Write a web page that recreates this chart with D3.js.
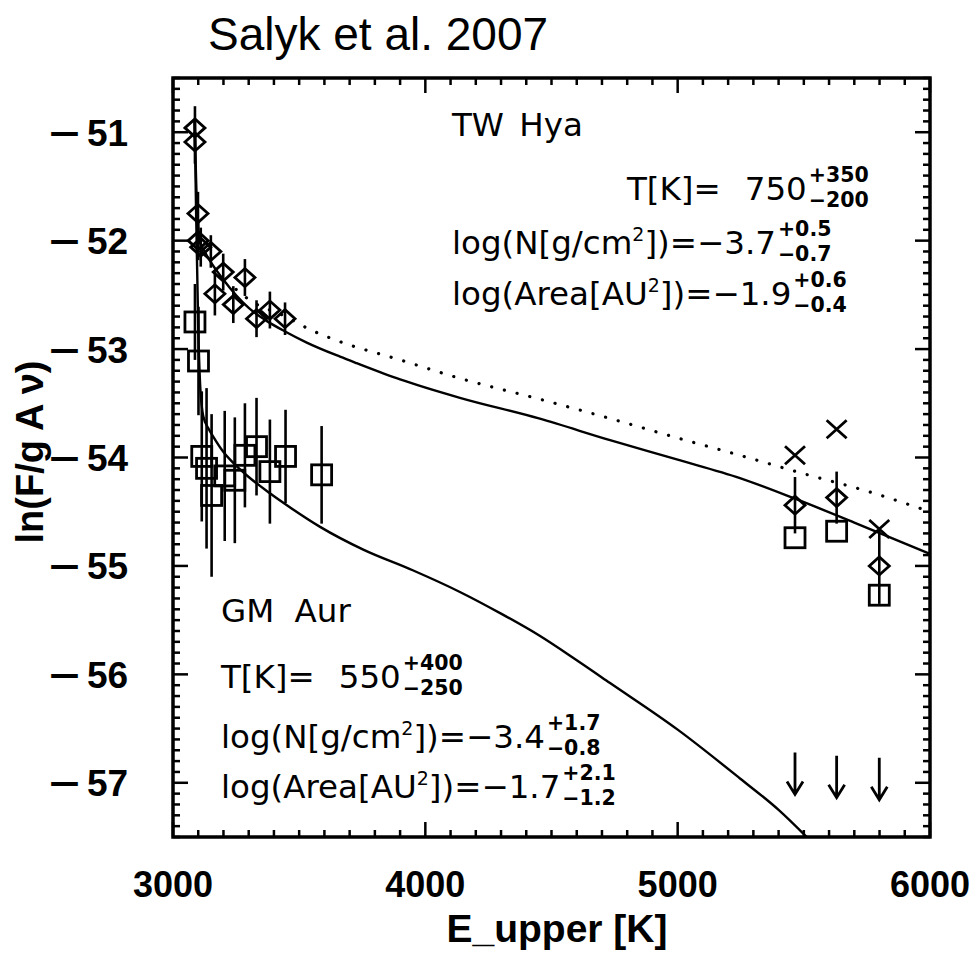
<!DOCTYPE html>
<html><head><meta charset="utf-8">
<script src="https://cdn.jsdelivr.net/npm/d3@7"></script>
<style>html,body{margin:0;padding:0;background:#fff;} svg{display:block;}</style>
</head><body>
<script>
// ---- data ----
const xTicks = [3000, 4000, 5000, 6000];
const yTicks = [-57, -56, -55, -54, -53, -52, -51];

// TW Hya (diamonds)
const twX   = [3087, 3087, 3099, 3100, 3110, 3150, 3199, 3166, 3285, 3239, 3331, 3384, 3444, 5465, 5630, 5799];
const twY   = [-50.96, -51.09, -51.75, -52.00, -52.06, -52.10, -52.29, -52.49, -52.34, -52.59, -52.72, -52.64, -52.72, -54.44, -54.37, -55.00];
const twErr = [0.2, 0.2, 0.2, 0.18, 0.18, 0.15, 0.17, 0.2, 0.17, 0.17, 0.17, 0.17, 0.15, 0.26, 0.24, 0.35];

// GM Aur (squares)
const gmX   = [3087, 3101, 3114, 3133, 3153, 3205, 3245, 3285, 3331, 3384, 3446, 3589, 5465, 5630, 5799];
const gmY   = [-52.75, -53.11, -53.99, -54.10, -54.35, -54.17, -54.21, -53.98, -53.90, -54.13, -53.99, -54.16, -54.74, -54.68, -55.27];
const gmErr = [0.35, 0.5, 0.6, 0.74, 0.75, 0.6, 0.58, 0.48, 0.45, 0.48, 0.43, 0.45, 0, 0, 0];

// crosses
const crossX = [5465, 5630, 5799];
const crossY = [-53.98, -53.74, -54.66];

// upper limits (arrows)
const limX = [5465, 5630, 5799];
const limY = [-56.72, -56.75, -56.77];

// TW Hya model (solid)
const twModelX = [3086, 3090, 3097, 3105, 3130, 3200, 3300, 3371, 3446, 3530, 3662, 3728, 3900, 4137, 4450, 4732, 5000, 5247, 5465, 5700, 6000];
const twModelY = [-50.9, -51.3, -51.8, -52.0, -52.12, -52.36, -52.62, -52.74, -52.84, -52.94, -53.07, -53.13, -53.28, -53.45, -53.64, -53.84, -54.02, -54.19, -54.38, -54.60, -54.89];
// TW Hya model (dotted)
const dotModelX = [3250, 3305, 3446, 3543, 3648, 3900, 4137, 4450, 4732, 5000, 5247, 5500, 5750, 6000];
const dotModelY = [-52.45, -52.55, -52.70, -52.82, -52.92, -53.10, -53.27, -53.46, -53.64, -53.82, -53.98, -54.15, -54.31, -54.50];
// GM Aur model (solid)
const gmModelX = [3086, 3092, 3100, 3108, 3120, 3140, 3160, 3200, 3252, 3300, 3384, 3470, 3583, 3754, 3950, 4137, 4300, 4450, 4600, 4732, 5000, 5247, 5400, 5520];
const gmModelY = [-50.9, -51.8, -52.8, -53.35, -53.62, -53.73, -53.81, -53.95, -54.08, -54.18, -54.33, -54.47, -54.64, -54.85, -55.04, -55.24, -55.44, -55.64, -55.87, -56.08, -56.51, -56.96, -57.25, -57.52];

// ---- drawing ----
const W = 978, H = 953;
const L = 173, R = 930, T = 78, B = 837;
const svg = d3.select("body").append("svg").attr("width", W).attr("height", H);
const x = d3.scaleLinear().domain([3000, 6000]).range([L, R]);
const y = d3.scaleLinear().domain([-57.5, -50.5]).range([B, T]);

svg.append("defs").append("clipPath").attr("id", "clip")
  .append("rect").attr("x", L).attr("y", T).attr("width", R - L).attr("height", B - T);

// title
svg.append("text").attr("x", 208).attr("y", 50)
  .attr("font-family", "Liberation Sans, Arial, sans-serif").attr("font-size", 46)
  .text("Salyk et al. 2007");

const g = svg.append("g");

// ticks
const xMinor = d3.range(0, 31).map(i => 3000 + i * 100);
const yMinor = d3.range(0, 71).map(i => -57.5 + i * 0.1);
const tickG = g.append("g").attr("stroke", "#000").attr("stroke-width", 2.5);
xMinor.forEach(v => {
  const major = xTicks.includes(v);
  const len = major ? 15 : 7;
  tickG.append("line").attr("x1", x(v)).attr("x2", x(v)).attr("y1", B).attr("y2", B - len);
  tickG.append("line").attr("x1", x(v)).attr("x2", x(v)).attr("y1", T).attr("y2", T + len);
});
yMinor.forEach(v => {
  const major = yTicks.some(t => Math.abs(t - v) < 1e-6);
  const len = major ? 15 : 7;
  tickG.append("line").attr("y1", y(v)).attr("y2", y(v)).attr("x1", L).attr("x2", L + len);
  tickG.append("line").attr("y1", y(v)).attr("y2", y(v)).attr("x1", R).attr("x2", R - len);
});

// frame
g.append("rect").attr("x", L).attr("y", T).attr("width", R - L).attr("height", B - T)
  .attr("fill", "none").attr("stroke", "#000").attr("stroke-width", 3.5);

// tick labels
const lblFont = "Liberation Sans, Arial, sans-serif";
xTicks.forEach(v => {
  svg.append("text").attr("x", x(v)).attr("y", 897).attr("text-anchor", "middle")
    .attr("font-family", lblFont).attr("font-weight", "bold").attr("font-size", 36)
    .text(v);
});
yTicks.forEach(v => {
  const t = svg.append("text").attr("y", y(v) + 13.5)
    .attr("font-family", lblFont).attr("font-weight", "bold").attr("font-size", 37);
  t.append("tspan").attr("x", 49).attr("textLength", 31).attr("lengthAdjust", "spacingAndGlyphs").text("\u2212");
  t.append("tspan").attr("x", 87).text(String(Math.abs(v)));
});

// axis titles
svg.append("text").attr("x", 557).attr("y", 942).attr("text-anchor", "middle")
  .attr("font-family", lblFont).attr("font-weight", "bold").attr("font-size", 39)
  .text("E_upper [K]");
svg.append("text").attr("transform", "translate(43,452) rotate(-90)").attr("text-anchor", "middle")
  .attr("font-family", lblFont).attr("font-weight", "bold").attr("font-size", 38)
  .text("ln(F/g A \u03bd)");

// models
const plot = g.append("g").attr("clip-path", "url(#clip)");
const line = d3.line().x(d => x(d[0])).y(d => y(d[1])).curve(d3.curveMonotoneX);
plot.append("path").datum(d3.zip(dotModelX, dotModelY)).attr("d", line)
  .attr("fill", "none").attr("stroke", "#000").attr("stroke-width", 3.2)
  .attr("stroke-dasharray", "0.1 13").attr("stroke-linecap", "round");
plot.append("path").datum(d3.zip(twModelX, twModelY)).attr("d", line)
  .attr("fill", "none").attr("stroke", "#000").attr("stroke-width", 2.4);
plot.append("path").datum(d3.zip(gmModelX, gmModelY)).attr("d", line)
  .attr("fill", "none").attr("stroke", "#000").attr("stroke-width", 2.4);

// error bars
const eb = plot.append("g").attr("stroke", "#000").attr("stroke-width", 2.6);
twX.forEach((v, i) => {
  eb.append("line").attr("x1", x(v)).attr("x2", x(v)).attr("y1", y(twY[i] - twErr[i])).attr("y2", y(twY[i] + twErr[i]));
});
gmX.forEach((v, i) => {
  if (gmErr[i] > 0)
    eb.append("line").attr("x1", x(v)).attr("x2", x(v)).attr("y1", y(gmY[i] - gmErr[i])).attr("y2", y(gmY[i] + gmErr[i]));
});

// diamonds
const mk = plot.append("g").attr("fill", "none").attr("stroke", "#000").attr("stroke-width", 2.8);
twX.forEach((v, i) => {
  const cx = x(v), cy = y(twY[i]);
  mk.append("path").attr("d", `M${cx - 10},${cy}L${cx},${cy - 9}L${cx + 10},${cy}L${cx},${cy + 9}Z`);
});
// squares
gmX.forEach((v, i) => {
  mk.append("rect").attr("x", x(v) - 10).attr("y", y(gmY[i]) - 10).attr("width", 20).attr("height", 20);
});
// crosses
crossX.forEach((v, i) => {
  const cx = x(v), cy = y(crossY[i]);
  mk.append("path").attr("d", `M${cx - 10},${cy - 9}L${cx + 10},${cy + 9}M${cx - 10},${cy + 9}L${cx + 10},${cy - 9}`);
});
// upper-limit arrows
limX.forEach((v, i) => {
  const cx = x(v), top = y(limY[i]), bot = top + 42;
  mk.append("path").attr("d", `M${cx},${top}L${cx},${bot}M${cx - 8},${bot - 13}L${cx},${bot}L${cx + 8},${bot - 13}`);
});

// annotations
const annFont = "DejaVu Sans, sans-serif";
function annLine(x0, yb, parts, sup, sub) {
  const t = svg.append("text").attr("x", x0).attr("y", yb)
    .attr("font-family", annFont).attr("font-size", 32.5);
  let pendingDown = 0;
  parts.forEach(p => {
    if (typeof p === "object") {
      if (p.s !== undefined) {
        t.append("tspan").attr("dy", -13).attr("font-size", 19).text(p.s);
        pendingDown = 13;
      } else if (p.gap !== undefined) {
        t.append("tspan").attr("dx", p.gap).text(p.t);
      }
    } else {
      const ts = t.append("tspan").text(p);
      if (pendingDown) { ts.attr("dy", pendingDown); pendingDown = 0; }
    }
  });
  if (sup) {
    const bb = t.node().getBBox();
    const xe = bb.x + bb.width + 2;
    svg.append("text").attr("x", xe).attr("y", yb - 18).attr("font-family", annFont)
      .attr("font-weight", "bold").attr("font-size", 20.5).text(sup);
    svg.append("text").attr("x", xe).attr("y", yb + 7).attr("font-family", annFont)
      .attr("font-weight", "bold").attr("font-size", 20.5).text(sub);
  }
}
annLine(452, 136, ["TW\u00a0", {gap: 5, t: "Hya"}]);
annLine(627, 200, ["T[K]=", {gap: 24, t: "750"}], "+350", "\u2212200");
annLine(452, 254, ["log(N[g/cm", {s: "2"}, "])=\u22123.7"], "+0.5", "\u22120.7");
annLine(452, 305, ["log(Area[AU", {s: "2"}, "])=\u22121.9"], "+0.6", "\u22120.4");

annLine(221, 622, ["GM\u00a0", {gap: 10, t: "Aur"}]);
annLine(221, 688, ["T[K]=", {gap: 24, t: "550"}], "+400", "\u2212250");
annLine(221, 748, ["log(N[g/cm", {s: "2"}, "])=\u22123.4"], "+1.7", "\u22120.8");
annLine(221, 798, ["log(Area[AU", {s: "2"}, "])=\u22121.7"], "+2.1", "\u22121.2");
</script>
</body></html>
